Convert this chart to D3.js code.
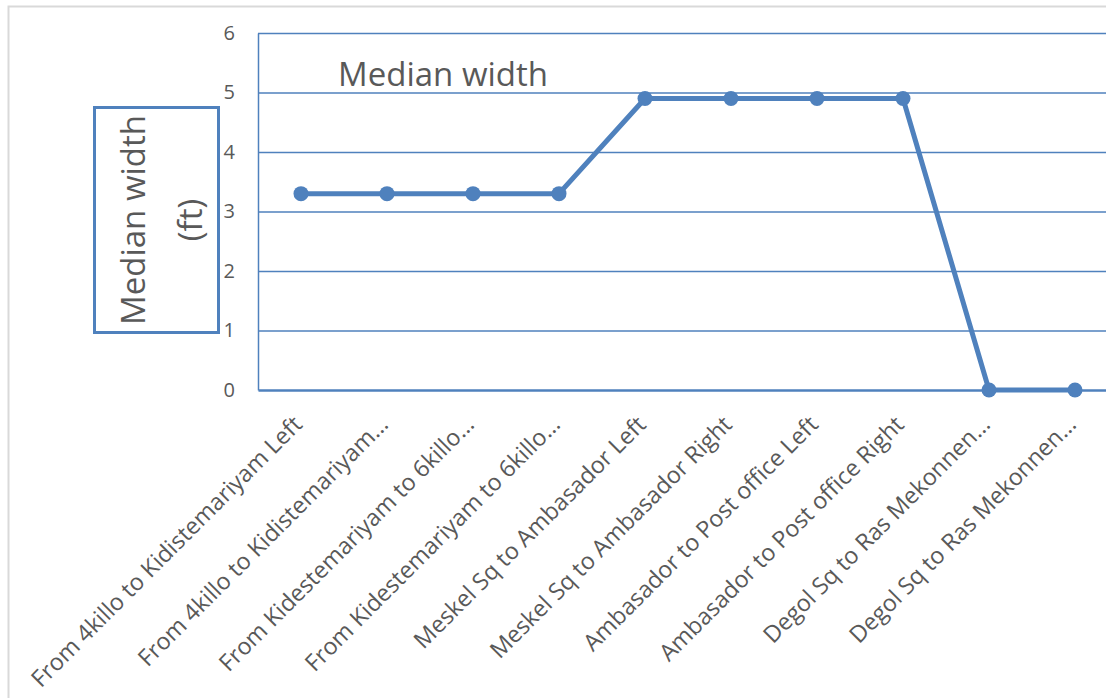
<!DOCTYPE html>
<html>
<head>
<meta charset="utf-8">
<script src="https://cdn.jsdelivr.net/npm/d3@7"></script>
<style>
  html, body { margin: 0; padding: 0; background: #fff; overflow: hidden; }
  svg { display: block; font-family: "Open Sans", "Noto Sans", sans-serif; }
</style>
</head>
<body>
<svg id="chart" width="1106" height="698"></svg>
<script>
// Road segment labels as they appear on the category axis
const categories = [
  "From 4killo to Kidistemariyam Left",
  "From 4killo to Kidistemariyam…",
  "From Kidestemariyam to 6killo…",
  "From Kidestemariyam to 6killo… ",
  "Meskel Sq to Ambasador Left",
  "Meskel Sq to Ambasador Right",
  "Ambasador to Post office Left",
  "Ambasador to Post office Right",
  "Degol Sq to Ras Mekonnen…",
  "Degol Sq to Ras Mekonnen… "
];
// Median width per segment (ft)
const medianWidth = [3.3, 3.3, 3.3, 3.3, 4.9, 4.9, 4.9, 4.9, 0, 0];
const yTicks = [0, 1, 2, 3, 4, 5, 6];

const blue = "#4f81bd";
const textGrey = "#595959";
const font = "'Open Sans', sans-serif";

const svg = d3.select("#chart");

// Outer chart frame
svg.append("rect")
  .attr("x", 8.5).attr("y", 6.5)
  .attr("width", 1120).attr("height", 710)
  .attr("fill", "none").attr("stroke", "#d9d9d9").attr("stroke-width", 2);

const plot = { left: 258, right: 1118, top: 33, bottom: 390 };

const x = d3.scalePoint()
  .domain(d3.range(categories.length))
  .range([plot.left, plot.right])
  .padding(0.5);

const y = d3.scaleLinear()
  .domain([0, 6])
  .range([plot.bottom, plot.top]);

// Horizontal gridlines
svg.append("g")
  .selectAll("line")
  .data(yTicks.filter(d => d > 0))
  .join("line")
  .attr("x1", plot.left).attr("x2", plot.right)
  .attr("y1", d => y(d) + 0.5).attr("y2", d => y(d) + 0.5)
  .attr("stroke", blue).attr("stroke-width", 1.3);

// Value axis
const yAxis = svg.append("g")
  .attr("transform", `translate(${plot.left},0)`)
  .call(d3.axisLeft(y).tickValues(yTicks).tickFormat(d3.format("d")).tickSize(0).tickPadding(23))
  .attr("font-size", 20).attr("font-family", font);
yAxis.select(".domain").attr("stroke", blue).attr("stroke-width", 1.5);
yAxis.selectAll("text").attr("fill", textGrey);

// Category axis
const xAxis = svg.append("g")
  .attr("transform", `translate(0,${plot.bottom})`)
  .call(d3.axisBottom(x).tickSize(0).tickFormat(i => categories[i].trim()))
  .attr("font-size", 23.3).attr("font-family", font);
xAxis.select(".domain").attr("stroke", blue).attr("stroke-width", 2.5);
xAxis.selectAll("text")
  .attr("fill", textGrey)
  .attr("text-anchor", "end")
  .attr("dy", null)
  .attr("y", 0)
  .attr("transform", "translate(2,36) rotate(-45)");

// Series line and markers
const line = d3.line()
  .x((d, i) => x(i))
  .y(d => y(d));

svg.append("path")
  .datum(medianWidth)
  .attr("d", line)
  .attr("fill", "none")
  .attr("stroke", blue)
  .attr("stroke-width", 5)
  .attr("stroke-linejoin", "round");

svg.append("g")
  .selectAll("circle")
  .data(medianWidth)
  .join("circle")
  .attr("cx", (d, i) => x(i))
  .attr("cy", d => y(d))
  .attr("r", 7.5)
  .attr("fill", blue);

// Chart title
svg.append("text")
  .attr("x", 443).attr("y", 86)
  .attr("text-anchor", "middle")
  .attr("fill", textGrey)
  .attr("font-family", font)
  .attr("font-size", 33)
  .text("Median width");

// Boxed axis title
svg.append("rect")
  .attr("x", 94.5).attr("y", 107.5)
  .attr("width", 124).attr("height", 225)
  .attr("fill", "#fff").attr("stroke", blue).attr("stroke-width", 3);

const axisTitle = svg.append("text")
  .attr("transform", "translate(158,220) rotate(-90)")
  .attr("text-anchor", "middle")
  .attr("fill", textGrey)
  .attr("font-family", font)
  .attr("font-size", 33);
axisTitle.append("tspan").attr("x", 0).attr("dy", "-0.38em").text("Median width");
axisTitle.append("tspan").attr("x", 0).attr("dy", "1.7em").text("(ft)");
</script>
</body>
</html>
